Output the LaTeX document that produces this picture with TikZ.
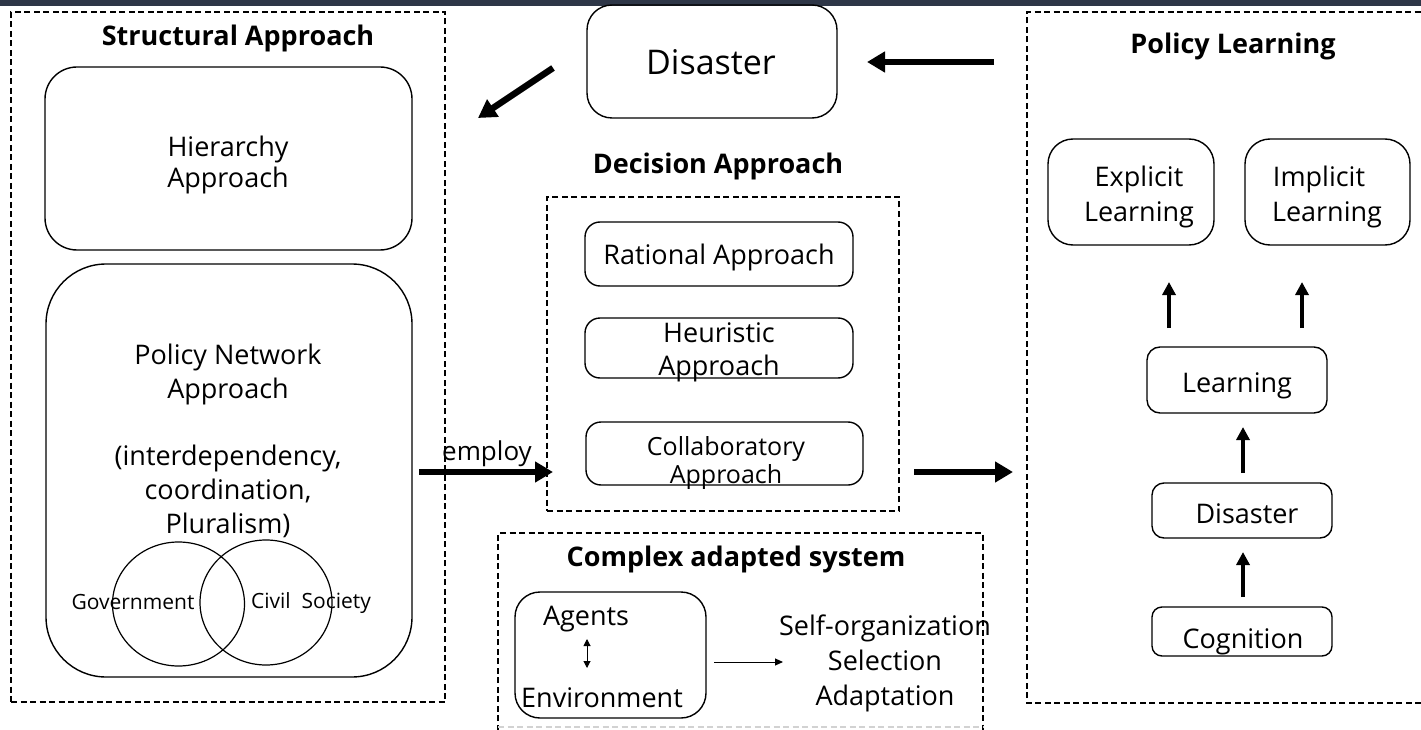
\documentclass[tikz,border=0pt]{standalone}
\usepackage{fontspec}
\setmainfont{Open Sans}
\usetikzlibrary{arrows.meta,fit,shapes.geometric}
\definecolor{topbar}{HTML}{2E3647}
\tikzset{
 rbox/.style={draw=black, line width=1.4pt, rounded corners=#1, inner sep=0pt},
 rbox/.default=20pt,
 dbox/.style={draw=black, line width=1.2pt, dash pattern=on 6pt off 3.5pt, inner sep=0pt},
 lbl/.style={anchor=base, inner sep=0pt, font=\fontsize{27}{32}\selectfont},
 lblm/.style={anchor=base, inner sep=0pt, font=\fontsize{25}{30}\selectfont},
 lblb/.style={anchor=base, inner sep=0pt, font=\fontsize{27}{32}\selectfont\bfseries},
 lbls/.style={anchor=base, inner sep=0pt, font=\fontsize{21}{26}\selectfont},
 bigarrow/.style={line width=6.5pt, -{Triangle[length=18pt,width=20pt]}},
 uparrow/.style={line width=4pt, -{Triangle[length=13pt,width=13pt]}},
 thinarrow/.style={line width=1pt, -{Triangle[length=8pt,width=7pt]}},
 dblarrow/.style={line width=1pt, {Triangle[length=7pt,width=7pt]}-{Triangle[length=7pt,width=7pt]}},
 venn/.style={draw=black, line width=1.2pt, ellipse, inner sep=0pt},
}
\begin{document}
\begin{tikzpicture}[x=1pt,y=-1pt]
\useasboundingbox (0,0) rectangle (1421,730);
\clip (0,0) rectangle (1421,730);
\fill[white] (0,0) rectangle (1421,730);
\fill[topbar] (0,0) rectangle (1421,6);

% ---------------- Structural approach
\node[dbox, fit={(11,12) (445,702)}] (structural) {};
\node[lblb] (structuraltitle) at (238,46) {Structural Approach};
\node[rbox=32pt, fit={(45,67) (412,250)}] (hier) {};
\node[lbl] (hierA) at (228,157) {Hierarchy};
\node[lbl] (hierB) at (228,188) {Approach};
\node[rbox=60pt, fit={(46,264) (412,677)}] (pna) {};
\node[lbl] (pnaA) at (228,364) {Policy Network};
\node[lbl] (pnaB) at (228,398) {Approach};
\node[lbl] (pnaC) at (228,465) {(interdependency,};
\node[lbl] (pnaD) at (228,499) {coordination,};
\node[lbl] (pnaE) at (228,533) {Pluralism)};
\node[venn, minimum width=132pt, minimum height=124pt] (govc) at (178.5,604) {};
\node[venn, minimum width=132pt, minimum height=125pt] (civc) at (266,602.5) {};
\node[lbls] (gov) at (133,609) {Government};
\node[lbls] (civ) at (311,608) {Civil\ \ Society};

% ---------------- Disaster (top)
\node[rbox=25pt, fit={(587,5) (837,118)}] (disaster) {};
\node[lbl, font=\fontsize{34}{40}\selectfont] (disastert) at (711,75) {Disaster};
\coordinate (dgA) at (553,68);
\coordinate (dgB) at (478,118);
\draw[bigarrow] (dgA) -- (dgB);
\coordinate (hzA) at (994,62);
\coordinate (hzB) at (867,62);
\draw[bigarrow] (hzA) -- (hzB);

% ---------------- Decision approach
\node[lblb] (decisiontitle) at (718,174) {Decision Approach};
\node[dbox, fit={(547,197) (899,511)}] (decision) {};
\node[rbox=15pt, fit={(585,222) (853,286)}] (rational) {};
\node[lbl] (rationalt) at (719,264) {Rational Approach};
\node[rbox=15pt, fit={(585,318) (853,378)}] (heur) {};
\node[lbl] (heurA) at (719,342) {Heuristic};
\node[lbl] (heurB) at (719,375) {Approach};
\node[rbox=15pt, fit={(586,422) (863,485)}] (collab) {};
\node[lblm] (collabA) at (726,455) {Collaboratory};
\node[lblm] (collabB) at (726,483) {Approach};
\node[lbl, font=\fontsize{26}{31}\selectfont] (employ) at (487,460) {employ};
\coordinate (emA) at (419,472);
\coordinate (emB) at (553,472);
\draw[bigarrow] (emA) -- (emB);
\coordinate (rtA) at (914,472);
\coordinate (rtB) at (1013,472);
\draw[bigarrow] (rtA) -- (rtB);

% ---------------- Complex adapted system
\draw[dbox] (498,740) -- (498,533) -- (983,533) -- (983,740);
\draw[dbox, draw=gray!35] (498,727) -- (983,727);
\node[lblb] (cas) at (736,566) {Complex adapted system};
\node[rbox=25pt, fit={(515,592) (706,718)}] (agentsbox) {};
\node[lbl] (agents) at (586,625) {Agents};
\node[lbl] (env) at (602,707) {Environment};
\coordinate (daA) at (587,639);
\coordinate (daB) at (587,668);
\draw[dblarrow] (daA) -- (daB);
\coordinate (taA) at (714,662);
\coordinate (taB) at (783,662);
\draw[thinarrow] (taA) -- (taB);
\node[lbl] (selforg) at (885,635) {Self-organization};
\node[lbl] (selection) at (885,670) {Selection};
\node[lbl] (adapt) at (885,705) {Adaptation};

% ---------------- Policy learning
\draw[dbox] (1440,703) -- (1027,703) -- (1027,12) -- (1440,12);
\node[lblb] (pltitle) at (1233,54) {Policy Learning};
\node[rbox=25pt, fit={(1048,139) (1214,245)}] (explicit) {};
\node[lbl] (explA) at (1139,187) {Explicit};
\node[lbl] (explB) at (1139,222) {Learning};
\node[rbox=25pt, fit={(1245,139) (1410,245)}] (implicit) {};
\node[lbl] (implA) at (1319,187) {Implicit};
\node[lbl] (implB) at (1327,222) {Learning};
\coordinate (u1A) at (1169,328);
\coordinate (u1B) at (1169,282);
\draw[uparrow] (u1A) -- (u1B);
\coordinate (u2A) at (1302,328);
\coordinate (u2B) at (1302,282);
\draw[uparrow] (u2A) -- (u2B);
\node[rbox=13pt, fit={(1147,347) (1327,413)}] (learning) {};
\node[lbl] (learningt) at (1237,392) {Learning};
\coordinate (u3A) at (1243,473);
\coordinate (u3B) at (1243,427);
\draw[uparrow] (u3A) -- (u3B);
\node[rbox=12pt, fit={(1152,483) (1332,538)}] (disaster2) {};
\node[lbl] (disaster2t) at (1247,523) {Disaster};
\coordinate (u4A) at (1243,597);
\coordinate (u4B) at (1243,552);
\draw[uparrow] (u4A) -- (u4B);
\node[rbox=10pt, fit={(1152,607) (1332,656)}] (cognition) {};
\node[lbl] (cognitiont) at (1243,648) {Cognition};
\end{tikzpicture}
\end{document}
